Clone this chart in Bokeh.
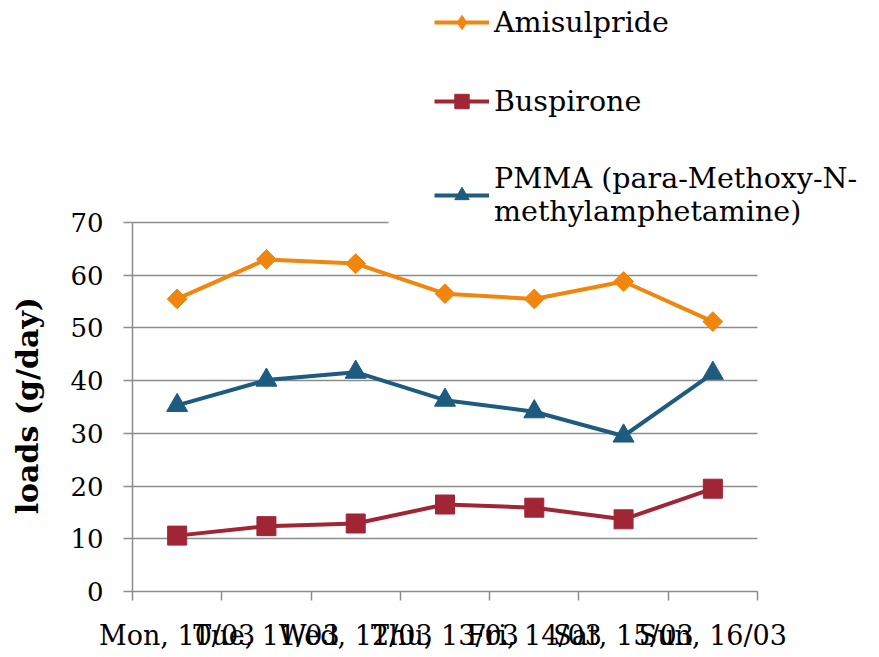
import math
from bokeh.plotting import figure
from bokeh.models import Range1d, FixedTicker, Legend, LegendItem, Grid
from bokeh.embed import file_html
from bokeh.resources import INLINE

days = ["Mon, 10/03", "Tue, 11/03", "Wed, 12/03", "Thu, 13/03",
        "Fri, 14/03", "Sat, 15/03", "Sun, 16/03"]
amisulpride = [55.5, 63.0, 62.2, 56.5, 55.5, 58.8, 51.2]
buspirone = [10.6, 12.4, 12.9, 16.5, 15.9, 13.7, 19.5]
pmma = [35.3, 40.1, 41.6, 36.3, 34.1, 29.5, 41.4]
y_ticks = [0, 10, 20, 30, 40, 50, 60, 70]
y_label = "loads (g/day)"
series_names = ["Amisulpride", "Buspirone", "PMMA (para-Methoxy-N-\nmethylamphetamine)"]
colors = ["#F0860E", "#A02636", "#1D5B7F"]

FONT = "DejaVu Serif"
GRID = "#8C8C8C"

W, H = 879, 657
LEFT, BOTTOM = 132, 66
PX_PER_X = 625 / 7.0      # pixels per category
PX_PER_Y = 369 / 70.0     # pixels per unit of load
frame_w = W - LEFT
frame_h = H - BOTTOM
TOP_GRID_END = (388 - LEFT) / PX_PER_X   # where the top gridline stops (legend box)
LABEL_PAD = 21            # non-breaking spaces that move the axis title onto the 0..70 span

x = [i + 0.5 for i in range(len(days))]
boundaries = [float(i) for i in range(len(days) + 1)]
y_max = y_ticks[-1]

p = figure(width=W, height=H, output_backend="svg", toolbar_location=None,
           x_range=Range1d(0, frame_w / PX_PER_X), y_range=Range1d(0, frame_h / PX_PER_Y),
           min_border_left=LEFT, min_border_top=0, min_border_right=0,
           min_border_bottom=BOTTOM)
p.outline_line_color = None
p.background_fill_color = "white"
p.border_fill_color = "white"

# x axis
xa = p.xaxis[0]
xa.ticker = FixedTicker(ticks=x, minor_ticks=boundaries)
xa.bounds = (0, len(days))
xa.major_label_overrides = {xi: d for xi, d in zip(x, days)}
xa.major_tick_out = 0
xa.major_tick_in = 0
xa.minor_tick_out = 9
xa.minor_tick_in = 0
xa.minor_tick_line_color = GRID
xa.minor_tick_line_width = 1.5
xa.axis_line_color = GRID
xa.axis_line_width = 1.5
xa.major_label_standoff = 19
xa.major_label_text_font = FONT
xa.major_label_text_font_size = "27px"
xa.major_label_text_color = "black"

# y axis
ya = p.yaxis[0]
ya.ticker = FixedTicker(ticks=y_ticks, minor_ticks=[])
ya.bounds = (0, y_max)
ya.major_tick_out = 9
ya.major_tick_in = 0
ya.major_tick_line_color = GRID
ya.major_tick_line_width = 1.5
ya.minor_tick_out = 0
ya.minor_tick_in = 0
ya.axis_line_color = GRID
ya.axis_line_width = 1.5
ya.major_label_standoff = 20
ya.major_label_text_font = FONT
ya.major_label_text_font_size = "26px"
ya.major_label_text_color = "black"
ya.axis_label = y_label + "\u00a0" * LABEL_PAD
ya.axis_label_text_font = FONT
ya.axis_label_text_font_size = "30px"
ya.axis_label_text_font_style = "bold"
ya.axis_label_text_color = "black"
ya.axis_label_standoff = 22

# gridlines
p.xgrid.grid_line_color = None
p.ygrid.ticker = FixedTicker(ticks=y_ticks[:-1])
p.ygrid.grid_line_color = GRID
p.ygrid.grid_line_width = 1.5
p.ygrid.cross_bounds = (0, len(days))
top_grid = Grid(dimension=1, ticker=FixedTicker(ticks=[y_max]), cross_bounds=(0, TOP_GRID_END),
                grid_line_color=GRID, grid_line_width=1.5)
p.add_layout(top_grid)

items = []
series = [amisulpride, buspirone, pmma]
markers = [("square", 14, math.pi / 4, "diamond"), ("square", 19, 0, None),
           ("triangle", 21, 0, None)]
for name, vals, col, (mk, sz, ang, lmk) in zip(series_names, series, colors, markers):
    ln = p.line(x, vals, line_color=col, line_width=4)
    if lmk is not None:
        # same points, drawn underneath; used for the legend swatch
        swatch = p.scatter(x, vals, marker=lmk, size=18, fill_color=col, line_color=col)
    sc = p.scatter(x, vals, marker=mk, size=sz, angle=ang, fill_color=col, line_color=col)
    if lmk is None:
        swatch = sc
    items.append(LegendItem(label=name, renderers=[ln, swatch]))

legend = Legend(items=items, location=(302, 363), background_fill_color="white",
                background_fill_alpha=1.0, border_line_color=None,
                padding=10, margin=0, spacing=43, glyph_width=55, glyph_height=36,
                label_height=30, label_standoff=5,
                label_text_font=FONT, label_text_font_size="28.5px",
                label_text_color="black")
p.add_layout(legend, "center")

open("out.html", "w").write(file_html(p, INLINE))
